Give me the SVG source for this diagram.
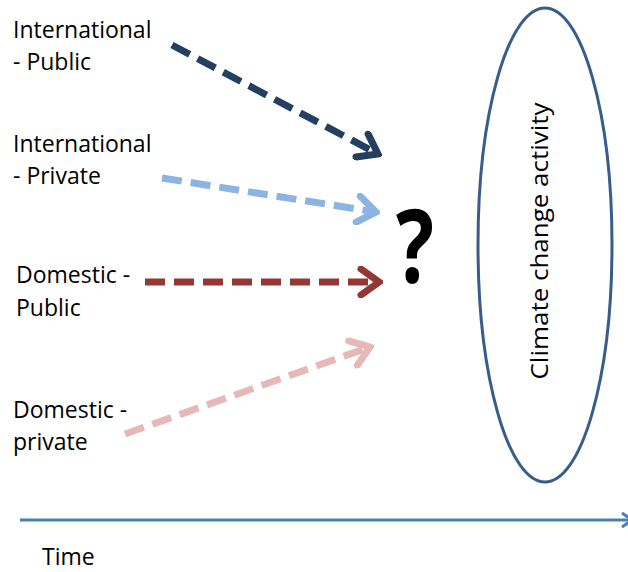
<svg xmlns="http://www.w3.org/2000/svg" width="628" height="572" viewBox="0 0 628 572">
<style>
.lbl{font-family:"Open Sans","Liberation Sans",sans-serif;font-size:23px;fill:#000}
.arr{fill:none;stroke-width:7;stroke-dasharray:20 9}
.head{fill:none;stroke-width:7;stroke-linecap:round;stroke-linejoin:miter}
</style>
<defs>
<marker id="mNavy" markerUnits="userSpaceOnUse" viewBox="-26 -16 30 32" markerWidth="30" markerHeight="32" refX="0" refY="0" orient="auto"><path class="head" stroke="#243f60" d="M-18,-13 L0,0 L-18,13"/></marker>
<marker id="mBlue" markerUnits="userSpaceOnUse" viewBox="-26 -16 30 32" markerWidth="30" markerHeight="32" refX="0" refY="0" orient="auto"><path class="head" stroke="#8db3e2" d="M-18,-13 L0,0 L-18,13"/></marker>
<marker id="mRed" markerUnits="userSpaceOnUse" viewBox="-26 -16 30 32" markerWidth="30" markerHeight="32" refX="0" refY="0" orient="auto"><path class="head" stroke="#953735" d="M-18,-13 L0,0 L-18,13"/></marker>
<marker id="mPink" markerUnits="userSpaceOnUse" viewBox="-26 -16 30 32" markerWidth="30" markerHeight="32" refX="0" refY="0" orient="auto"><path class="head" stroke="#e6b9b8" d="M-18,-13 L0,0 L-18,13"/></marker>
<marker id="mAxis" markerUnits="userSpaceOnUse" viewBox="-14 -10 16 20" markerWidth="16" markerHeight="20" refX="0" refY="0" orient="auto"><path fill="none" stroke="#4a7ebb" stroke-width="3" d="M-10,-7 L0,0 L-10,7"/></marker>
</defs>
<g id="connectors">
<line class="arr" stroke="#243f60" x1="172" y1="45" x2="378" y2="154" marker-end="url(#mNavy)"/>
<line class="arr" stroke="#8db3e2" x1="162" y1="178" x2="376" y2="212" marker-end="url(#mBlue)"/>
<line class="arr" stroke="#953735" x1="145" y1="282" x2="379" y2="282" marker-end="url(#mRed)"/>
<line class="arr" stroke="#e6b9b8" x1="125" y1="434" x2="370" y2="347" marker-end="url(#mPink)"/>
<line id="time-axis" stroke="#4a7ebb" stroke-width="3" x1="20" y1="520" x2="632" y2="520" marker-end="url(#mAxis)"/>
</g>
<g id="intl-public"><text class="lbl" x="13" y="38">International</text><text class="lbl" x="13" y="70">- Public</text></g>
<g id="intl-private"><text class="lbl" x="13" y="152">International</text><text class="lbl" x="13" y="184">- Private</text></g>
<g id="dom-public"><text class="lbl" x="16" y="283">Domestic -</text><text class="lbl" x="16" y="316">Public</text></g>
<g id="dom-private"><text class="lbl" x="13" y="418">Domestic -</text><text class="lbl" x="13" y="450">private</text></g>
<g id="question"><text transform="translate(415,283) scale(0.78,1)" text-anchor="middle" font-family="'Open Sans','Liberation Sans',sans-serif" font-weight="bold" font-size="102">?</text></g>
<g id="climate"><ellipse cx="545" cy="245" rx="67" ry="237" fill="none" stroke="#385d8a" stroke-width="3"/><text class="lbl" font-size="26" textLength="277" lengthAdjust="spacingAndGlyphs" transform="translate(548,241) rotate(-90)" text-anchor="middle">Climate change activity</text></g>
<g id="time"><text class="lbl" font-size="24" x="42" y="565">Time</text></g>
</svg>
